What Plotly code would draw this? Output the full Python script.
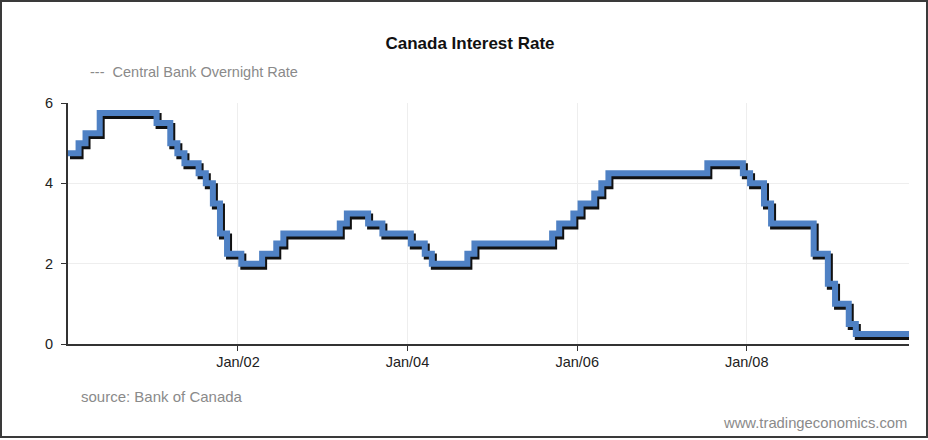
import pandas as pd
import plotly.graph_objects as go

# ---------------- data ----------------
# month-end observations, Dec 1999 .. Nov 2009
month_starts = pd.date_range("2000-01-01", periods=120, freq="MS")
dates = month_starts - pd.Timedelta(days=1)

rate_1999 = [4.75]
rate_2000 = [4.75, 5.00, 5.25, 5.25, 5.75, 5.75, 5.75, 5.75, 5.75, 5.75, 5.75, 5.75]
rate_2001 = [5.50, 5.50, 5.00, 4.75, 4.50, 4.50, 4.25, 4.00, 3.50, 2.75, 2.25, 2.25]
rate_2002 = [2.00, 2.00, 2.00, 2.25, 2.25, 2.50, 2.75, 2.75, 2.75, 2.75, 2.75, 2.75]
rate_2003 = [2.75, 2.75, 3.00, 3.25, 3.25, 3.25, 3.00, 3.00, 2.75, 2.75, 2.75, 2.75]
rate_2004 = [2.50, 2.50, 2.25, 2.00, 2.00, 2.00, 2.00, 2.00, 2.25, 2.50, 2.50, 2.50]
rate_2005 = [2.50, 2.50, 2.50, 2.50, 2.50, 2.50, 2.50, 2.50, 2.75, 3.00, 3.00, 3.25]
rate_2006 = [3.50, 3.50, 3.75, 4.00, 4.25, 4.25, 4.25, 4.25, 4.25, 4.25, 4.25, 4.25]
rate_2007 = [4.25, 4.25, 4.25, 4.25, 4.25, 4.25, 4.50, 4.50, 4.50, 4.50, 4.50, 4.25]
rate_2008 = [4.00, 4.00, 3.50, 3.00, 3.00, 3.00, 3.00, 3.00, 3.00, 2.25, 2.25, 1.50]
rate_2009 = [1.00, 1.00, 0.50, 0.25, 0.25, 0.25, 0.25, 0.25, 0.25, 0.25, 0.25]

rates = (rate_1999 + rate_2000 + rate_2001 + rate_2002 + rate_2003 + rate_2004
         + rate_2005 + rate_2006 + rate_2007 + rate_2008 + rate_2009)

tick_dates = ["2002-01-01", "2004-01-01", "2006-01-01", "2008-01-01"]
tick_labels = ["Jan/02", "Jan/04", "Jan/06", "Jan/08"]
y_ticks = [0, 2, 4, 6]

series_name = "Central Bank Overnight Rate"
title_text = "Canada Interest Rate"
source_text = "source: Bank of Canada"
site_text = "www.tradingeconomics.com"

# ---------------- layout geometry ----------------
W, H = 928, 440
L, R, T, B = 68, 19, 103, 96
PW, PH = W - L - R, H - T - B
FONT = "Arial, 'Liberation Sans', sans-serif"

x0, x1 = dates[0], dates[-1]
span = x1 - x0
y_lo, y_hi = 0, 6
SH_DX, SH_DY = 2, 3  # shadow offset in px
xr = [x0, x1]
xr_sh = [x0 - span * (SH_DX / PW), x1 - span * (SH_DX / PW)]
dyv = (y_hi - y_lo) * SH_DY / PH
yr = [y_lo, y_hi]
yr_sh = [y_lo + dyv, y_hi + dyv]


def px_x(x):
    return (x - L) / PW


def px_y(y):
    return (H - B - y) / PH


fig = go.Figure()
# base subplot carrier (invisible) so the main axes are drawn
fig.add_trace(go.Scatter(
    x=dates, y=rates, xaxis="x", yaxis="y", mode="lines",
    line=dict(color="rgba(0,0,0,0)", width=0),
    hoverinfo="skip", showlegend=False))
# shadow
fig.add_trace(go.Scatter(
    x=dates, y=rates, xaxis="x2", yaxis="y2", mode="lines",
    line=dict(color="#111111", width=6, shape="hvh"),
    hoverinfo="skip", showlegend=False))
# main line
fig.add_trace(go.Scatter(
    x=dates, y=rates, xaxis="x3", yaxis="y3", mode="lines",
    line=dict(color="#4F81C4", width=6, shape="hvh"),
    name=series_name, showlegend=False))

axis_common = dict(showline=True, linecolor="#333333", linewidth=2,
                   ticks="outside", ticklen=5, tickcolor="#333333", tickwidth=1,
                   showgrid=True, gridcolor="#eeeeee", gridwidth=1, zeroline=False,
                   tickfont=dict(family=FONT, size=14.5, color="#222222"))

fig.update_layout(
    width=W, height=H,
    margin=dict(l=L, r=R, t=T, b=B),
    paper_bgcolor="white", plot_bgcolor="white",
    font=dict(family=FONT),
    showlegend=False,
    title=dict(text="<b>" + title_text + "</b>", x=470 / W, xanchor="center",
               y=1 - 43 / H, yanchor="middle", yref="container",
               font=dict(family=FONT, size=17, color="#111111")),
    xaxis=dict(range=xr, type="date", tickvals=tick_dates, ticktext=tick_labels,
               ticklabelstandoff=-1, domain=[0, 1], **axis_common),
    yaxis=dict(range=yr, tickvals=y_ticks, ticklabelstandoff=5, domain=[0, 1],
               **axis_common),
    xaxis2=dict(overlaying="x", range=xr_sh, type="date", visible=False),
    yaxis2=dict(overlaying="y", range=yr_sh, visible=False),
    xaxis3=dict(overlaying="x", range=xr, type="date", visible=False),
    yaxis3=dict(overlaying="y", range=yr, visible=False),
)

fig.add_annotation(xref="paper", yref="paper", x=px_x(88), y=px_y(72),
                   xanchor="left", yanchor="middle", showarrow=False,
                   text="---  " + series_name,
                   font=dict(family=FONT, size=14.5, color="#8a8a8a"))
fig.add_annotation(xref="paper", yref="paper", x=px_x(79), y=px_y(396),
                   xanchor="left", yanchor="middle", showarrow=False,
                   text=source_text,
                   font=dict(family=FONT, size=15, color="#8a8a8a"))
fig.add_annotation(xref="paper", yref="paper", x=px_x(909), y=px_y(423),
                   xanchor="right", yanchor="middle", showarrow=False,
                   text=site_text,
                   font=dict(family=FONT, size=14.8, color="#8a8a8a"))

# outer frame
fig.add_shape(type="rect", xref="paper", yref="paper",
              x0=px_x(1), x1=px_x(927), y0=px_y(437), y1=px_y(1),
              line=dict(color="#3a3a3a", width=2), fillcolor="rgba(0,0,0,0)")

fig.write_html("out.html",
               config={"displayModeBar": False},
               post_script="document.body.style.margin='0px';"
                           "document.body.style.padding='0px';")
